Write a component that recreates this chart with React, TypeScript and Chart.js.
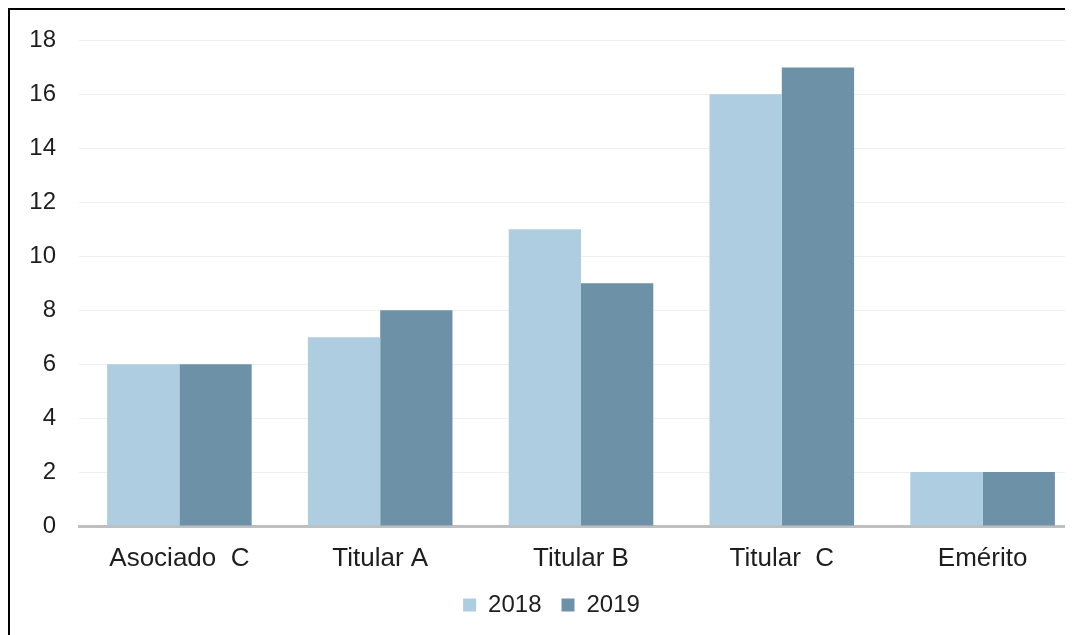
import React, { useEffect, useRef } from "react";
import { Chart, registerables } from "chart.js";

Chart.register(...registerables);

const categories = ["Asociado  C", "Titular A", "Titular B", "Titular  C", "Emérito"];
const series2018 = [6, 7, 11, 16, 2];
const series2019 = [6, 8, 9, 17, 2];
const seriesLabels = ["2018", "2019"];
const yTicks = [0, 2, 4, 6, 8, 10, 12, 14, 16, 18];

const FONT = "'Liberation Sans', Arial, sans-serif";

export default function App() {
  const ref = useRef<HTMLCanvasElement | null>(null);

  useEffect(() => {
    document.documentElement.style.overflow = "hidden";
    document.body.style.overflow = "hidden";
    const ctx = ref.current;
    if (!ctx) return;
    const chart = new Chart(ctx, {
      type: "bar",
      data: {
        labels: categories,
        datasets: [
          {
            label: seriesLabels[0],
            data: series2018,
            backgroundColor: "#aecde1",
            categoryPercentage: 0.72,
            barPercentage: 1,
          },
          {
            label: seriesLabels[1],
            data: series2019,
            backgroundColor: "#6d92a8",
            categoryPercentage: 0.72,
            barPercentage: 1,
          },
        ],
      },
      options: {
        animation: false,
        responsive: true,
        maintainAspectRatio: false,
        layout: { padding: { top: 3, right: 32, bottom: 16, left: 10 } },
        plugins: {
          tooltip: { enabled: false },
          legend: {
            position: "bottom",
            labels: {
              boxWidth: 13,
              boxHeight: 13,
              padding: 20,
              color: "#1e1e1e",
              font: { family: FONT, size: 24 },
            },
          },
        },
        scales: {
          x: {
            z: 1,
            grid: { display: false, drawTicks: false },
            border: { display: true, color: "#bfbfbf", width: 3 },
            ticks: {
              color: "#1e1e1e",
              padding: 17,
              font: { family: FONT, size: 26 },
              maxRotation: 0,
            },
            afterFit: (s: any) => {
              s.height = 47;
            },
          },
          y: {
            min: 0,
            max: 18,
            afterBuildTicks: (s: any) => {
              s.ticks = yTicks.map((v) => ({ value: v }));
            },
            grid: { color: "#efefef", lineWidth: 1, drawTicks: false },
            border: { display: false },
            ticks: {
              color: "#1e1e1e",
              padding: 23,
              font: { family: FONT, size: 24 },
            },
            afterFit: (s: any) => {
              s.width = 59;
            },
          },
        },
      },
    });
    return () => chart.destroy();
  }, []);

  return (
    <div style={{ width: 1065, height: 627, overflow: "hidden" }}>
      <div style={{ border: "2px solid #000", width: 1105, height: 640, background: "#fff" }}>
        <div style={{ position: "relative", top: -7, width: 1105, height: 640 }}>
          <canvas ref={ref} />
        </div>
      </div>
    </div>
  );
}
